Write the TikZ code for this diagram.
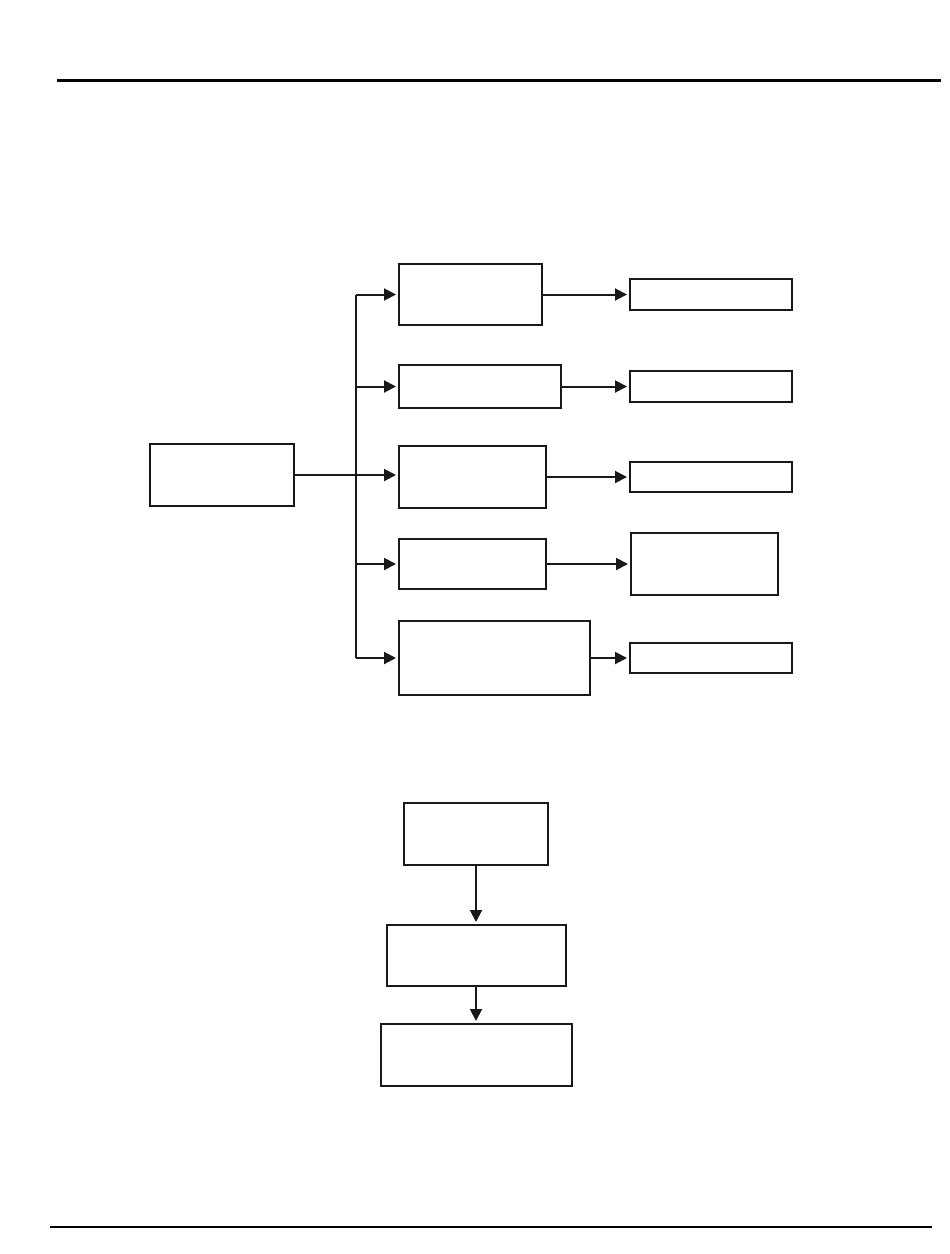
\documentclass[tikz,border=0pt]{standalone}
\usetikzlibrary{arrows.meta}
\begin{document}
\begin{tikzpicture}[x=1pt,y=-1pt,
  box/.style={draw=black!90,line width=2pt,inner sep=0pt,fill=none},
  conn/.style={draw=black!90,line width=2pt},
  arr/.style={conn,-{Triangle[length=12pt,width=12pt]},shorten >=2pt},
  rule/.style={draw=black,line width=3pt}]
\useasboundingbox (0,0) rectangle (950,1254);
% rules
\coordinate (t1) at (57,80); \coordinate (t2) at (941,80);
\coordinate (b1) at (50,1227); \coordinate (b2) at (932,1227);
\draw[rule] (t1) -- (t2);
\draw[rule,line width=2.5pt] (b1) -- (b2);
% boxes
\node[box,minimum width=144pt,minimum height=62pt] (L) at (222,475) {};
\node[box,minimum width=143pt,minimum height=61pt] (m1) at (470.5,294.5) {};
\node[box,minimum width=162pt,minimum height=43pt] (m2) at (480,386.5) {};
\node[box,minimum width=147pt,minimum height=62pt] (m3) at (472.5,477) {};
\node[box,minimum width=147pt,minimum height=50pt] (m4) at (472.5,564) {};
\node[box,minimum width=191pt,minimum height=74pt] (m5) at (494.5,658) {};
\node[box,minimum width=162pt,minimum height=31pt] (r1) at (711,294.5) {};
\node[box,minimum width=162pt,minimum height=31pt] (r2) at (711,386.5) {};
\node[box,minimum width=162pt,minimum height=30pt] (r3) at (711,477) {};
\node[box,minimum width=147pt,minimum height=62pt] (r4) at (704.5,564) {};
\node[box,minimum width=162pt,minimum height=30pt] (r5) at (711,658) {};
\node[box,minimum width=144pt,minimum height=62pt] (B1) at (476,834) {};
\node[box,minimum width=179pt,minimum height=61pt] (B2) at (476,955.5) {};
\node[box,minimum width=191pt,minimum height=62pt] (B3) at (476,1055) {};
% spine
\coordinate (sx) at (356,0);
\coordinate (s1) at (sx |- m1.west);
\coordinate (s2) at (sx |- m2.west);
\coordinate (s4) at (sx |- m4.west);
\coordinate (s5) at (sx |- m5.west);
\draw[conn] (s1) -- (s5);
\draw[arr] (s1) -- (m1.west);
\draw[arr] (s2) -- (m2.west);
\draw[arr] (L.east) -- (L.east -| m3.west);
\draw[arr] (s4) -- (m4.west);
\draw[arr] (s5) -- (m5.west);
% middle to right
\draw[arr] (m1.east) -- (r1.west);
\draw[arr] (m2.east) -- (r2.west);
\draw[arr] (m3.east) -- (r3.west);
\draw[arr] (m4.east) -- (r4.west);
\draw[arr] (m5.east) -- (r5.west);
% bottom chain
\draw[arr] (B1.south) -- (B2.north);
\draw[arr] (B2.south) -- (B3.north);
\end{tikzpicture}
\end{document}
